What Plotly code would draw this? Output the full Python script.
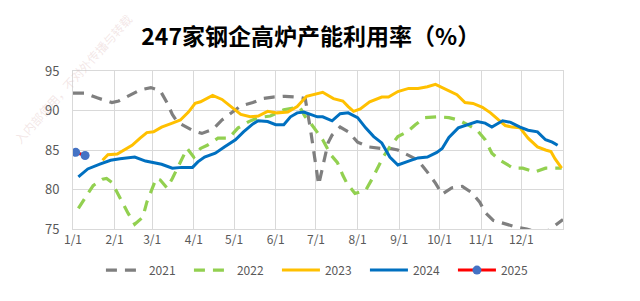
import plotly.graph_objects as go

# Day-of-year positions (0 = Jan 1) and utilization values (%)
d2021 = [0, 9, 18, 26, 29, 34, 43, 50, 58, 65, 70, 74, 78, 83, 90, 96, 104, 111, 119, 125, 134, 141, 149, 158, 167, 173, 177, 183, 190, 193, 199, 205, 212, 220, 229, 236, 242, 249, 257, 264, 270, 275, 282, 290, 297, 303, 307, 313, 322, 331, 338, 346, 354, 361, 365]
v2021 = [92.2, 92.2, 91.6, 91.1, 91.0, 91.2, 92.0, 92.6, 92.9, 92.5, 91.0, 89.5, 88.5, 88.0, 87.4, 87.1, 87.6, 88.8, 89.8, 90.6, 91.0, 91.5, 91.7, 91.8, 91.7, 91.5, 87.5, 80.6, 85.9, 86.9, 87.9, 87.3, 86.0, 85.4, 85.2, 85.2, 85.0, 84.4, 83.7, 82.2, 80.8, 79.4, 80.2, 80.4, 79.6, 78.4, 77.1, 76.1, 75.6, 75.2, 75.0, 74.6, 74.8, 75.7, 76.2]

d2022 = [4, 9, 15, 22, 25, 29, 33, 37, 41, 46, 52, 55, 59, 62, 65, 70, 74, 79, 82, 85, 90, 95, 100, 108, 116, 123, 131, 138, 147, 157, 164, 169, 173, 177, 183, 186, 192, 197, 201, 204, 210, 218, 223, 227, 231, 236, 242, 249, 255, 262, 272, 280, 287, 294, 301, 307, 312, 318, 328, 335, 344, 352, 359, 364]
v2022 = [77.6, 79.0, 80.5, 81.3, 81.4, 80.9, 79.6, 78.2, 77.0, 75.6, 76.5, 78.4, 80.2, 81.4, 81.2, 80.2, 81.4, 83.1, 84.1, 85.2, 84.1, 85.2, 85.6, 86.5, 86.5, 87.8, 88.6, 89.1, 89.3, 90.1, 90.3, 90.4, 89.2, 88.4, 87.0, 86.3, 84.4, 83.4, 81.8, 80.8, 79.5, 79.9, 81.4, 82.8, 84.1, 85.4, 86.7, 87.3, 88.2, 89.1, 89.2, 89.1, 88.8, 88.2, 87.5, 86.3, 84.6, 83.7, 82.7, 82.7, 82.2, 82.7, 82.7, 82.7]

d2023 = [22, 26, 33, 37, 44, 50, 55, 60, 66, 74, 80, 86, 91, 95, 104, 111, 119, 125, 132, 138, 145, 152, 160, 167, 174, 182, 186, 194, 201, 205, 209, 214, 221, 230, 235, 242, 250, 257, 264, 270, 275, 280, 286, 292, 298, 305, 311, 317, 322, 327, 333, 339, 346, 352, 356, 359, 364]
v2023 = [83.7, 84.4, 84.5, 84.9, 85.6, 86.5, 87.2, 87.3, 87.9, 88.4, 88.8, 89.8, 90.9, 91.1, 91.9, 91.4, 90.3, 89.5, 89.2, 89.3, 89.9, 89.7, 89.8, 90.5, 91.8, 92.1, 92.3, 91.5, 91.2, 90.5, 89.9, 90.2, 91.1, 91.7, 91.7, 92.4, 92.8, 92.8, 93.0, 93.3, 92.9, 92.4, 92.0, 91.0, 90.9, 90.4, 89.7, 88.8, 88.1, 87.9, 87.8, 86.5, 85.4, 85.0, 84.8, 83.9, 82.7]

d2024 = [4, 11, 20, 28, 35, 46, 54, 66, 74, 81, 89, 93, 98, 106, 113, 121, 127, 134, 138, 145, 151, 157, 162, 167, 172, 177, 182, 186, 193, 199, 205, 212, 218, 224, 230, 236, 242, 250, 257, 264, 271, 275, 280, 287, 294, 301, 307, 312, 320, 326, 333, 339, 346, 352, 357, 361]
v2024 = [81.6, 82.6, 83.2, 83.7, 83.9, 84.1, 83.6, 83.2, 82.7, 82.8, 82.8, 83.5, 84.1, 84.6, 85.4, 86.3, 87.3, 88.3, 88.7, 88.6, 88.2, 88.2, 89.2, 89.7, 89.8, 89.5, 89.2, 89.2, 88.7, 89.6, 89.7, 89.1, 87.8, 86.7, 85.9, 84.1, 83.1, 83.6, 84.0, 84.1, 84.7, 85.2, 86.6, 87.8, 88.2, 88.6, 88.4, 87.9, 88.7, 88.5, 87.9, 87.5, 87.3, 86.3, 86.0, 85.6]

d2025 = [2, 9]
v2025 = [84.7, 84.3]

month_days = [0, 31, 59, 90, 120, 151, 181, 212, 243, 273, 304, 334]
month_labels = ["1/1", "2/1", "3/1", "4/1", "5/1", "6/1", "7/1", "8/1", "9/1", "10/1", "11/1", "12/1"]

title_text = "247家钢企高炉产能利用率（%）"
watermark_text = "入内部使用，不对外传播与转载"

fig = go.Figure()
fig.add_trace(go.Scatter(x=d2021, y=v2021, name="2021", mode="lines",
                         line=dict(color="#7f7f7f", width=3.2, dash="11px,8px")))
fig.add_trace(go.Scatter(x=d2022, y=v2022, name="2022", mode="lines",
                         line=dict(color="#92d050", width=3.2, dash="11px,8px")))
fig.add_trace(go.Scatter(x=d2023, y=v2023, name="2023", mode="lines",
                         line=dict(color="#ffc000", width=3)))
fig.add_trace(go.Scatter(x=d2024, y=v2024, name="2024", mode="lines",
                         line=dict(color="#0070c0", width=3)))
fig.add_trace(go.Scatter(x=d2025, y=v2025, name="2025", mode="lines+markers",
                         line=dict(color="#ff0000", width=3),
                         marker=dict(color="#4472c4", size=9)))

font_main = "Noto Sans CJK SC, Noto Sans, sans-serif"

# The page body has an 8px default margin, so the figure is sized to fit the window.
fig.update_layout(
    width=632, height=293,
    margin=dict(l=65, r=77, t=63, b=72),
    paper_bgcolor="white", plot_bgcolor="white",
    font=dict(family=font_main, size=12, color="#595959"),
    title=dict(text="<b>" + title_text + "</b>", x=0.479, xanchor="center",
               y=1 - 29 / 293, yanchor="middle",
               font=dict(family=font_main, size=23, color="#000000")),
    showlegend=True,
    legend=dict(orientation="h", x=0.506, xanchor="center", y=-0.26, yanchor="middle",
                font=dict(size=12, color="#595959"), itemwidth=38,
                entrywidth=35, entrywidthmode="pixels",
                bgcolor="rgba(0,0,0,0)"),
    xaxis=dict(range=[0, 365], tickmode="array", tickvals=month_days, ticktext=month_labels,
               showgrid=True, gridcolor="#d9d9d9", gridwidth=1, zeroline=False,
               showline=True, linecolor="#d9d9d9", mirror=True, ticks="",
               tickfont=dict(size=12, color="#595959")),
    yaxis=dict(range=[75, 95], dtick=5, showgrid=True, gridcolor="#d9d9d9", gridwidth=1,
               zeroline=False, showline=True, linecolor="#d9d9d9", mirror=True, ticks="",
               ticklabelstandoff=10,
               tickfont=dict(size=13, color="#595959")),
)

fig.add_annotation(text=watermark_text, xref="paper", yref="paper",
                   x=0.0, y=0.95, xanchor="center", yanchor="middle", showarrow=False,
                   textangle=-48, font=dict(family=font_main, size=12, color="rgba(220,185,185,0.35)"))

fig.write_html("out.html")
